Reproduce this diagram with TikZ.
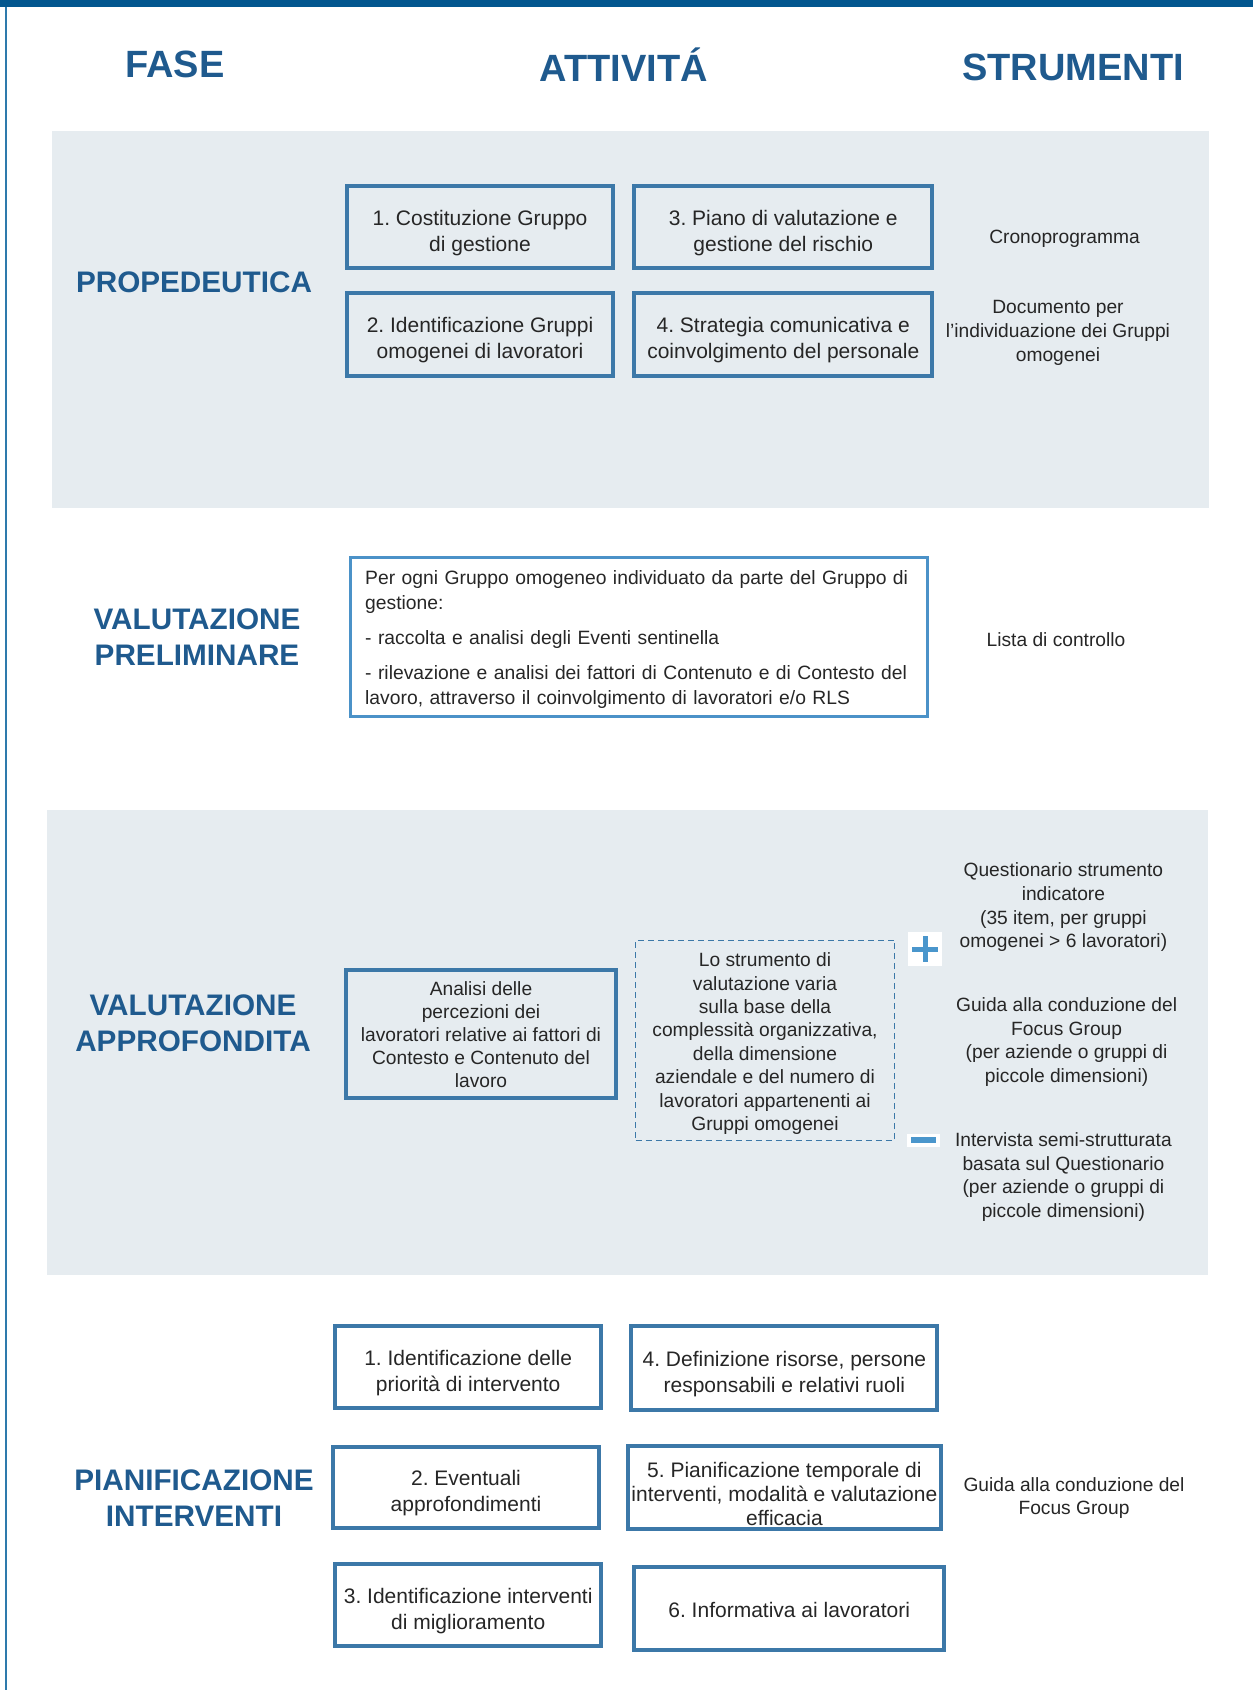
\documentclass[tikz,border=0pt]{standalone}
\usepackage{fontspec}
\setmainfont{Liberation Sans}
\usepackage{xcolor}

\definecolor{barblue}{RGB}{3,87,143}
\definecolor{sideblue}{RGB}{46,122,172}
\definecolor{bandgrey}{RGB}{230,236,240}
\definecolor{titleblue}{RGB}{31,90,142}
\definecolor{boxblue}{RGB}{60,120,168}
\definecolor{lightblue}{RGB}{75,146,200}
\definecolor{signblue}{RGB}{74,150,204}
\definecolor{inkgrey}{RGB}{38,38,38}

% invisible strut that lowers the first line of a box
\newcommand\stepgap[1]{\rule{0pt}{#1pt}}

\begin{document}
\frenchspacing
\begin{tikzpicture}[x=1pt,y=1pt,yscale=-1,xscale=1,
  header/.style={font=\fontsize{38}{44}\selectfont\bfseries, text=titleblue, inner sep=0},
  fase/.style={font=\fontsize{29.7}{36.3}\selectfont\bfseries, text=titleblue, align=center, inner sep=0},
  stepbox/.style={draw=boxblue, line width=4, align=center, inner sep=0, text=inkgrey,
    font=\fontsize{21}{26}\selectfont},
  tool/.style={align=center, inner sep=0, text=inkgrey, font=\fontsize{19.2}{23.6}\selectfont},
  signbg/.style={fill=white, inner sep=0}
]
\useasboundingbox (0,0) rectangle (1253,1690);

%Shape: frame
\fill[barblue] (0,0) rectangle (1253,7.3);
\fill[sideblue] (5,7.3) rectangle (7,1690);

%Shape: bands
\fill[bandgrey] (51.7,131.4) rectangle (1208.8,507.5);
\fill[bandgrey] (47.4,810.2) rectangle (1207.8,1274.6);

% Text Node
\node[header] (fase) at (175,64.6) {FASE};
% Text Node
\node[header] (attivita) at (624,64.8) {ATTIVITÁ};
% Text Node
\node[header] (strumenti) at (1073,67.9) {STRUMENTI};

% PROPEDEUTICA
\node[fase] (prop) at (194,282) {PROPEDEUTICA};
\node[stepbox, minimum width=266.4, minimum height=82.2] (prop1) at (480,227.3) {\stepgap{27.3}1. Costituzione Gruppo\\di gestione};
\node[stepbox, minimum width=297.7, minimum height=82.2] (prop3) at (783.3,227.3) {\stepgap{27.3}3. Piano di valutazione e\\gestione del rischio};
\node[stepbox, minimum width=266.4, minimum height=83.3] (prop2) at (480,334.5) {\stepgap{27.3}2. Identificazione Gruppi\\omogenei di lavoratori};
\node[stepbox, minimum width=297.7, minimum height=83.3] (prop4) at (783.3,334.5) {\stepgap{27.3}4. Strategia comunicativa e\\coinvolgimento del personale};
\node[tool] (crono) at (1064.5,239.2) {Cronoprogramma};
\node[tool] (docum) at (1058,332.9) {Documento per\\l’individuazione dei Gruppi\\omogenei};

% VALUTAZIONE PRELIMINARE
\node[fase] (prel) at (197,637) {VALUTAZIONE\\PRELIMINARE};
\node[draw=lightblue, line width=3, text=inkgrey, align=left, inner xsep=15, inner ysep=6,
  text width=547.4, minimum height=159.5, font=\fontsize{19.3}{24.4}\selectfont] (prelbox) at (638.9,636.8)
  {\stepgap{19.5}Per ogni Gruppo omogeneo individuato da parte del Gruppo di\\gestione:\\[11pt]
   - raccolta e analisi degli Eventi sentinella\\[11pt]
   - rilevazione e analisi dei fattori di Contenuto e di Contesto del\\lavoro, attraverso il coinvolgimento di lavoratori e/o RLS};
\node[tool] (lista) at (1056,640) {Lista di controllo};

% VALUTAZIONE APPROFONDITA
\node[fase] (appr) at (193,1023.5) {VALUTAZIONE\\APPROFONDITA};
\node[stepbox, minimum width=270.7, minimum height=128.5, font=\fontsize{19.2}{22.9}\selectfont] (analisi) at (481,1033.8)
  {\stepgap{16}Analisi delle\\percezioni dei\\lavoratori relative ai fattori di\\Contesto e Contenuto del\\lavoro};
\node[draw=boxblue, line width=1.6, dash pattern=on 6pt off 4pt, text=inkgrey, align=center, inner sep=0,
  minimum width=259, minimum height=200, font=\fontsize{19.2}{23.4}\selectfont] (varia) at (765,1040.3)
  {\stepgap{20.5}Lo strumento di\\valutazione varia\\sulla base della\\complessità organizzativa,\\della dimensione\\aziendale e del numero di\\lavoratori appartenenti ai\\Gruppi omogenei};
\node[signbg, minimum width=34, minimum height=34] (plus) at (925,949) {};
\draw[signblue, line width=5] ([xshift=-13]plus.center) -- ([xshift=13]plus.center);
\draw[signblue, line width=5] ([yshift=-13]plus.center) -- ([yshift=13]plus.center);
\node[signbg, minimum width=33, minimum height=13] (minus) at (923.3,1140) {};
\draw[signblue, line width=6] ([xshift=-12.5]minus.center) -- ([xshift=12.5]minus.center);
\node[tool] (quest) at (1063.4,907.4) {Questionario strumento\\indicatore\\(35 item, per gruppi\\omogenei > 6 lavoratori)};
\node[tool] (guida) at (1066.6,1042.2) {Guida alla conduzione del\\Focus Group\\(per aziende o gruppi di\\piccole dimensioni)};
\node[tool] (interv) at (1063.4,1177.2) {Intervista semi-strutturata\\basata sul Questionario\\(per aziende o gruppi di\\piccole dimensioni)};

% PIANIFICAZIONE INTERVENTI
\node[fase] (pian) at (194,1498) {PIANIFICAZIONE\\INTERVENTI};
\node[stepbox, minimum width=266, minimum height=82] (pian1) at (468.2,1367.2) {\stepgap{27.3}1. Identificazione delle\\priorità di intervento};
\node[stepbox, minimum width=306, minimum height=84] (pian4) at (784.4,1368.3) {\stepgap{27.3}4. Definizione risorse, persone\\responsabili e relativi ruoli};
\node[stepbox, minimum width=266, minimum height=81] (pian2) at (466,1487.4) {\stepgap{27.3}2. Eventuali\\approfondimenti};
\node[stepbox, minimum width=313, minimum height=83, font=\fontsize{21}{24.3}\selectfont] (pian5) at (784.4,1487.4) {\stepgap{28.3}5. Pianificazione temporale di\\interventi, modalità e valutazione\\efficacia};
\node[stepbox, minimum width=266, minimum height=82] (pian3) at (468.2,1605.3) {\stepgap{27.3}3. Identificazione interventi\\di miglioramento};
\node[stepbox, minimum width=309.6, minimum height=83] (pian6) at (789.2,1608) {\stepgap{19.7}6. Informativa ai lavoratori};
\node[tool] (guida2) at (1074,1498.2) {Guida alla conduzione del\\Focus Group};

\end{tikzpicture}
\end{document}
